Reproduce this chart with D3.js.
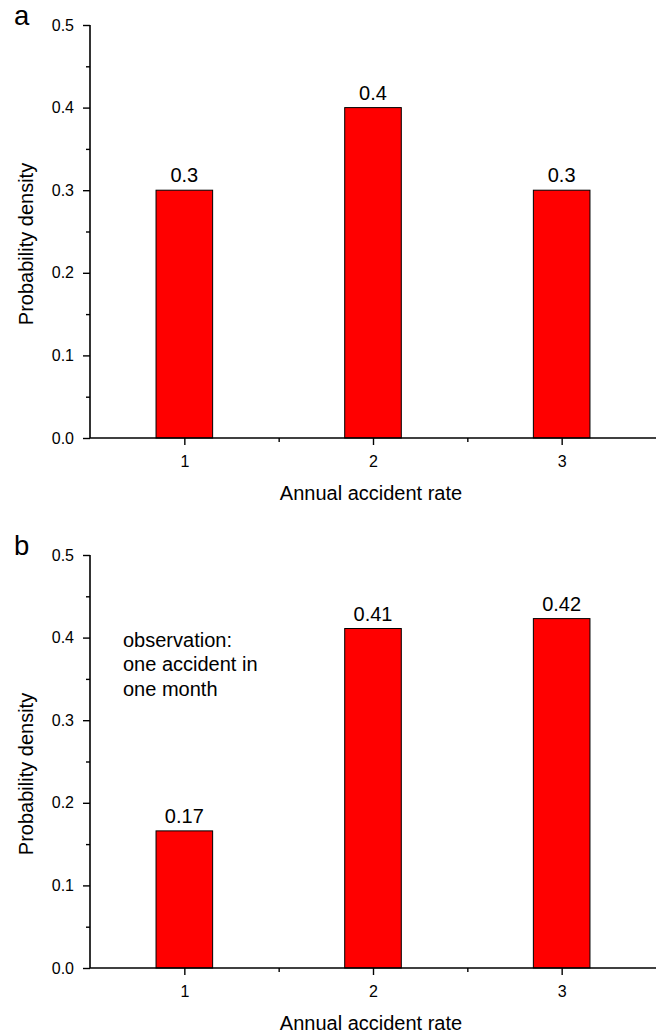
<!DOCTYPE html>
<html>
<head>
<meta charset="utf-8">
<script src="https://cdn.jsdelivr.net/npm/d3@7"></script>
<style>
  html, body { margin: 0; padding: 0; background: #fff; }
  svg { display: block; font-family: "Liberation Sans", Arial, sans-serif; }
</style>
</head>
<body>
<svg id="chart" width="661" height="1035"></svg>
<script>
// ---- data ----
const categories = [1, 2, 3];
const priorValues = [0.3, 0.4, 0.3];
const priorLabels = ["0.3", "0.4", "0.3"];
const posteriorValues = [0.166, 0.411, 0.423];
const posteriorLabels = ["0.17", "0.41", "0.42"];
const yTicks = [0.0, 0.1, 0.2, 0.3, 0.4, 0.5];
const yMinorTicks = [0.05, 0.15, 0.25, 0.35, 0.45];
const xTicks = [1, 2, 3];
const xMinorTicks = [1.5, 2.5];
const panelLetters = ["a", "b"];
const annotationLines = ["observation:", "one accident in", "one month"];
const xTitle = "Annual accident rate";
const yTitle = "Probability density";

const FONT = "Liberation Sans, Arial, sans-serif";
const svg = d3.select("#chart");
svg.append("rect").attr("width", 661).attr("height", 1035).attr("fill", "#fff");

const left = 90, right = 656;
const panels = [
  { top: 25, bottom: 438, values: priorValues, labels: priorLabels, letter: panelLetters[0], note: false },
  { top: 555, bottom: 968, values: posteriorValues, labels: posteriorLabels, letter: panelLetters[1], note: true }
];

const x = d3.scaleLinear().domain([0.5, 3.5]).range([left, right]);
const barW = 0.3;

panels.forEach(p => {
  const y = d3.scaleLinear().domain([0, 0.5]).range([p.bottom, p.top]);
  const g = svg.append("g");

  // bars
  g.selectAll("rect.bar").data(categories).enter().append("rect")
    .attr("class", "bar")
    .attr("x", (d) => x(d - barW / 2))
    .attr("width", x(1 + barW) - x(1))
    .attr("y", (d, i) => y(p.values[i]))
    .attr("height", (d, i) => y(0) - y(p.values[i]))
    .attr("fill", "#ff0000")
    .attr("stroke", "#000")
    .attr("stroke-width", 1);

  // bar labels
  g.selectAll("text.blab").data(categories).enter().append("text")
    .attr("x", d => x(d))
    .attr("y", (d, i) => y(p.values[i]) - 8)
    .attr("text-anchor", "middle")
    .attr("font-size", 20)
    .attr("fill", "#000")
    .text((d, i) => p.labels[i]);

  // y axis
  const yAxis = d3.axisLeft(y).tickValues(yTicks).tickFormat(d3.format(".1f")).tickSize(7).tickPadding(9);
  const ya = g.append("g").attr("transform", `translate(${left},0)`).call(yAxis);
  ya.attr("font-size", null).attr("font-family", null);
  ya.selectAll("text").style("font-size", "16px").style("font-family", FONT).attr("fill", "#000");
  const yAxisMinor = d3.axisLeft(y).tickValues(yMinorTicks).tickFormat("").tickSize(4);
  const yam = g.append("g").attr("transform", `translate(${left},0)`).call(yAxisMinor);
  yam.select(".domain").remove();

  // x axis
  const xAxis = d3.axisBottom(x).tickValues(xTicks).tickFormat(d3.format("d")).tickSize(7).tickPadding(11);
  const xa = g.append("g").attr("transform", `translate(0,${p.bottom})`).call(xAxis);
  xa.attr("font-size", null).attr("font-family", null);
  xa.selectAll("text").style("font-size", "16px").style("font-family", FONT).attr("fill", "#000");
  const xAxisMinor = d3.axisBottom(x).tickValues(xMinorTicks).tickFormat("").tickSize(4);
  const xam = g.append("g").attr("transform", `translate(0,${p.bottom})`).call(xAxisMinor);
  xam.select(".domain").remove();

  [ya, xa, yam, xam].forEach(a => {
    a.selectAll("path.domain").attr("stroke", "#000").attr("stroke-width", 1.6);
    a.selectAll(".tick line").attr("stroke", "#000").attr("stroke-width", 1.4);
  });
  xa.select("path.domain").attr("d", `M${left},0H${right}`);
  ya.select("path.domain").attr("d", `M0,${p.bottom}V${p.top}`);

  // axis titles
  g.append("text")
    .attr("x", (left + right) / 2 - 2)
    .attr("y", p.bottom + 62)
    .attr("text-anchor", "middle")
    .attr("font-size", 20)
    .text(xTitle);
  g.append("text")
    .attr("transform", `translate(33,${(p.top + p.bottom) / 2 + 12.5}) rotate(-90)`)
    .attr("text-anchor", "middle")
    .attr("font-size", 20)
    .text(yTitle);

  // panel letter
  g.append("text")
    .attr("x", 14)
    .attr("y", p.top)
    .attr("font-size", 27.5)
    .text(p.letter);

  if (p.note) {
    g.selectAll("text.note").data(annotationLines).enter().append("text")
      .attr("x", 123)
      .attr("y", (d, i) => y(0.4) + 9 + i * 24.7)
      .attr("font-size", 20)
      .text(d => d);
  }
});
</script>
</body>
</html>
